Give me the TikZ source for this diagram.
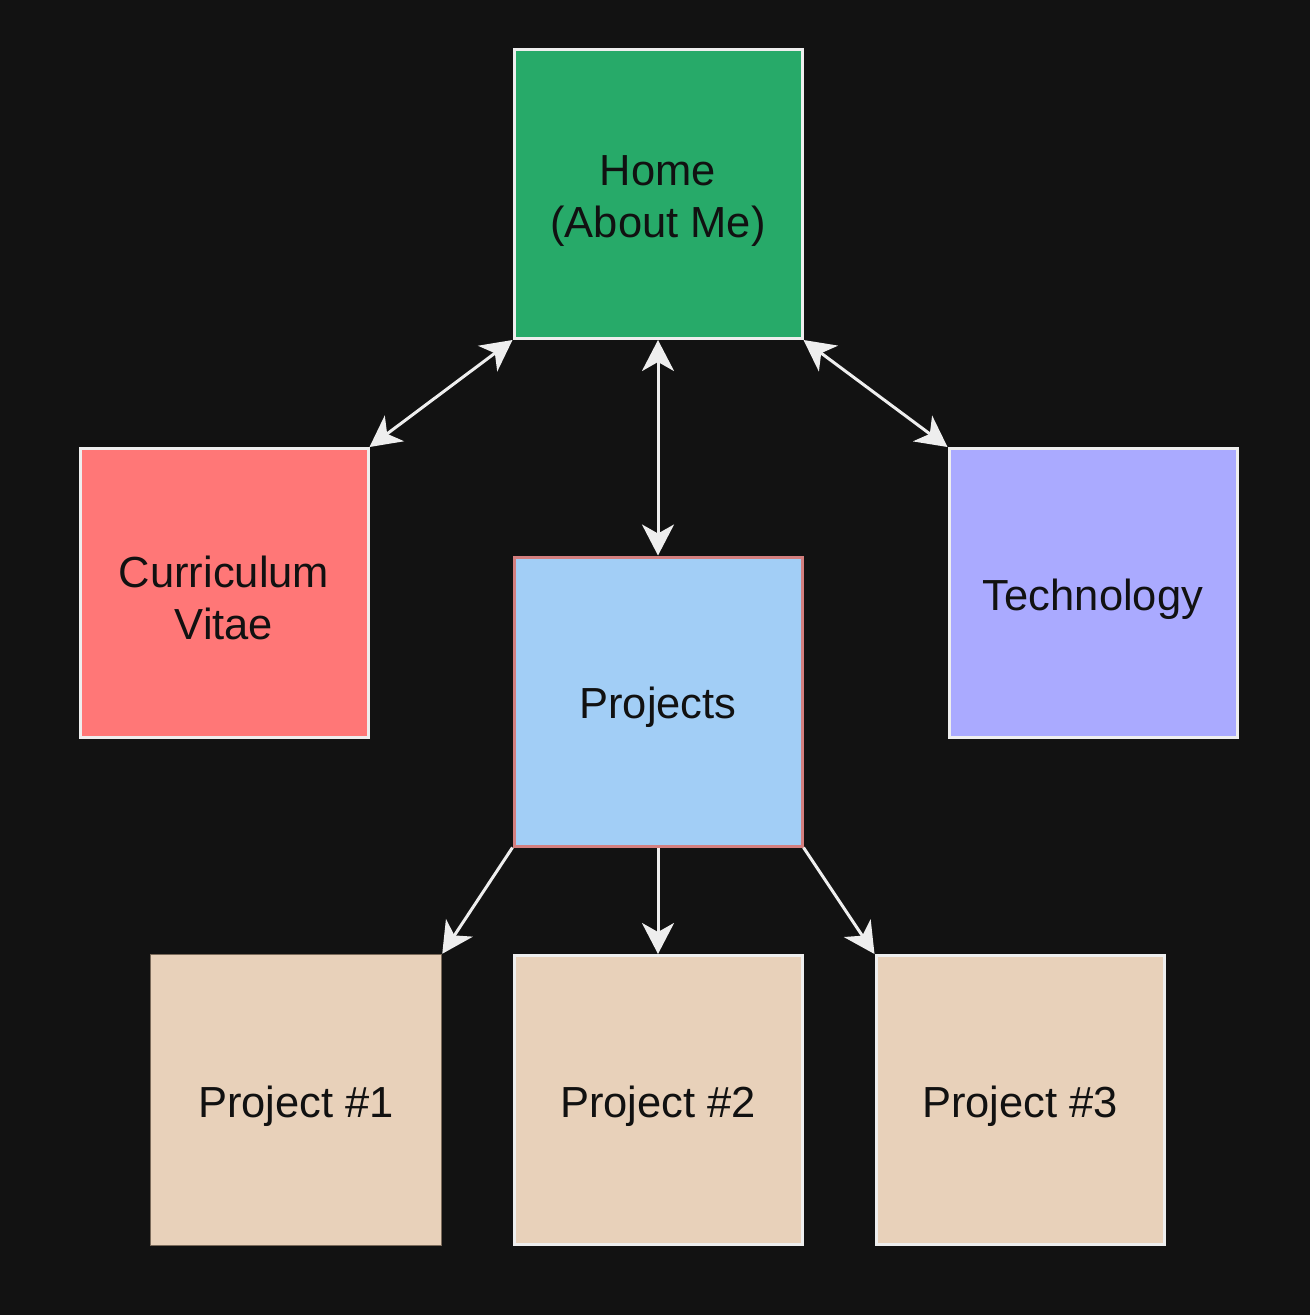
\documentclass[tikz,border=0pt]{standalone}
\usepackage{fontspec}
\setmainfont{Liberation Sans}
\usetikzlibrary{arrows.meta}
\definecolor{bg}{HTML}{121212}
\definecolor{homefill}{HTML}{27AA69}
\definecolor{cvfill}{HTML}{FF7777}
\definecolor{techfill}{HTML}{AAAAFF}
\definecolor{projfill}{HTML}{A2CEF6}
\definecolor{projborder}{HTML}{D47F7F}
\definecolor{pfill}{HTML}{E8D1BA}
\definecolor{pborder}{HTML}{7A6A5A}
\definecolor{edgecol}{HTML}{EEEEEE}
\definecolor{txt}{HTML}{111111}
\newcommand\lnst{\rule[-4pt]{0pt}{48pt}}
\begin{document}
\begin{tikzpicture}[x=1pt,y=-1pt,
  box/.style={draw=edgecol, line width=3pt, minimum width=288pt, minimum height=289pt,
    inner sep=0pt, text=txt, align=center, font=\fontsize{43.5}{52}\selectfont},
  conn/.style={draw=edgecol, line width=3pt},
  mytip/.tip={Stealth[length=31pt,width=32pt,inset=9pt]}]
\fill[bg] (0,0) rectangle (1310,1315);
\useasboundingbox (0,0) rectangle (1310,1315);
\node[box, fill=homefill] (home) at (658,194) {\lnst Home\\\lnst (About Me)};
\node[box, fill=cvfill] (cv) at (224,593) {\lnst Curriculum\\\lnst Vitae};
\node[box, fill=techfill] (tech) at (1093,593) {\lnst Technology};
\node[box, fill=projfill, draw=projborder] (proj) at (658,701.5) {\lnst Projects};
\node[box, fill=pfill, draw=pborder, line width=1.5pt, minimum width=291pt, minimum height=291pt] (p1) at (296,1100) {\lnst Project \#1};
\node[box, fill=pfill] (p2) at (658,1100) {\lnst Project \#2};
\node[box, fill=pfill] (p3) at (1020,1100) {\lnst Project \#3};
\draw[conn, mytip-mytip] (home.south west) -- (cv.north east);
\draw[conn, mytip-mytip] (home.south) -- (proj.north);
\draw[conn, mytip-mytip] (home.south east) -- (tech.north west);
\draw[conn, -mytip] (proj.south west) -- (p1.north east);
\draw[conn, -mytip] (proj.south) -- (p2.north);
\draw[conn, -mytip] (proj.south east) -- (p3.north west);
\end{tikzpicture}
\end{document}
